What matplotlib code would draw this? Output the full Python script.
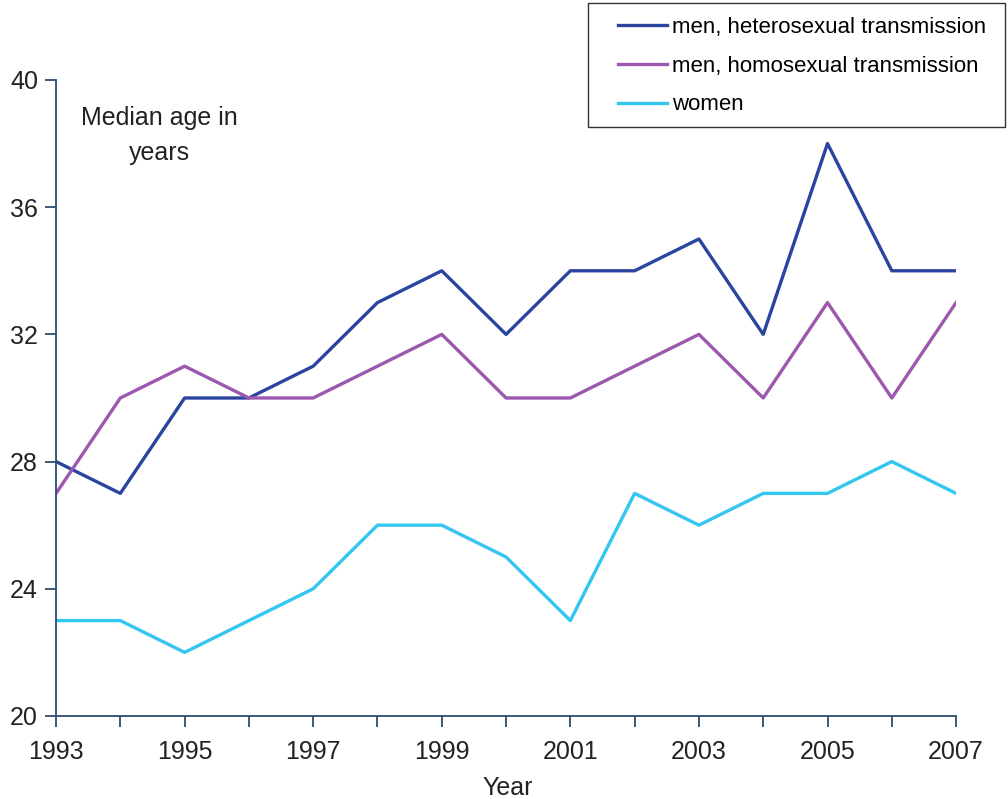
import matplotlib.pyplot as plt
from matplotlib.patches import Rectangle

plt.rcParams['font.family'] = ['Liberation Sans', 'DejaVu Sans']

years = list(range(1993, 2008))
hetero = [28, 27, 30, 30, 31, 33, 34, 32, 34, 34, 35, 32, 38, 34, 34]
homo = [27, 30, 31, 30, 30, 31, 32, 30, 30, 31, 32, 30, 33, 30, 33]
women = [23, 23, 22, 23, 24, 26, 26, 25, 23, 27, 26, 27, 27, 28, 27]

axis_col = '#2e4d70'

fig = plt.figure(figsize=(10.08, 7.99), dpi=100)
ax = fig.add_axes([0.0556, 0.1039, 0.8929, 0.796])

l1, = ax.plot(years, hetero, color='#2a44a0', lw=2.4)
l2, = ax.plot(years, homo, color='#9c58ae', lw=2.4)
l3, = ax.plot(years, women, color='#32c6f0', lw=2.4)

ax.set_xlim(1993, 2007)
ax.set_ylim(20, 40)
ax.set_yticks(range(20, 41, 4))
ax.set_xticks(years)
ax.set_xticklabels([str(y) if y % 2 == 1 else '' for y in years])

for s in ['top', 'right']:
    ax.spines[s].set_visible(False)
for s in ['left', 'bottom']:
    ax.spines[s].set_color(axis_col)
    ax.spines[s].set_linewidth(1.3)
ax.tick_params(axis='y', length=8, width=1.3, color=axis_col, labelsize=18,
               pad=5, labelcolor='#222222')
ax.tick_params(axis='x', length=8, width=1.3, color=axis_col, labelsize=18,
               pad=9, labelcolor='#222222')

ax.set_xlabel('Year', fontsize=18, labelpad=0, color='#222222')
ax.xaxis.set_label_coords(0.502, -0.094)

ax.text(0.115, 0.959, 'Median age in\nyears', transform=ax.transAxes,
        ha='center', va='top', fontsize=18, linespacing=1.55, color='#222222')

# legend frame drawn separately so the padding matches the original
fig.patches.append(Rectangle((0.5833, 0.841), 0.4137, 0.155, transform=fig.transFigure,
                             fill=False, edgecolor='#333333', lw=1.0))
fig.legend([l1, l2, l3],
           ['men, heterosexual transmission', 'men, homosexual transmission', 'women'],
           loc='upper left', bbox_to_anchor=(0.613, 0.979), fontsize=16,
           frameon=False, handlelength=2.2, handletextpad=0.22, labelspacing=0.8,
           borderpad=0, borderaxespad=0)

plt.savefig('out.png', dpi=100)
